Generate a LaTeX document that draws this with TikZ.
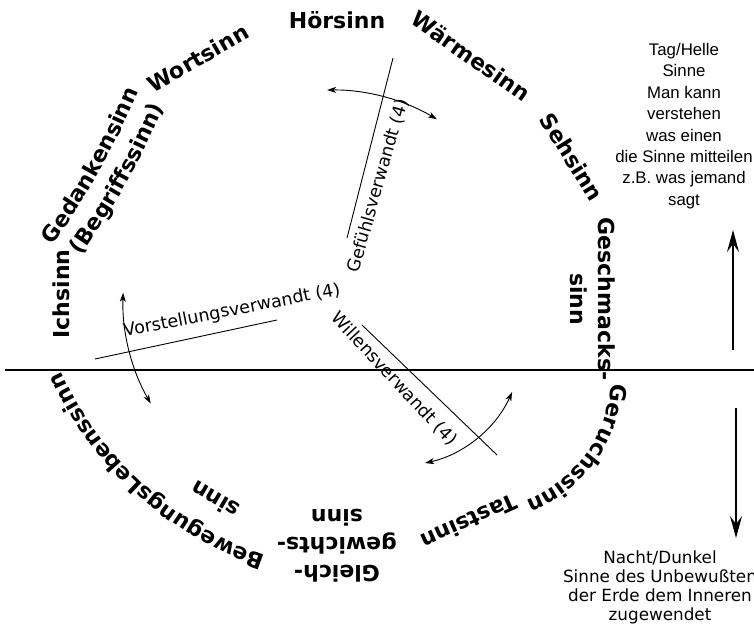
\documentclass[tikz,border=0pt]{standalone}
\usepackage{fontspec}
\setmainfont{DejaVu Sans}
\newfontfamily\arialfont{Liberation Sans}
\usetikzlibrary{arrows.meta,decorations.text}
\newcommand\sensefont{\fontsize{22}{28}\selectfont\bfseries}
\tikzset{
  sense/.style={font=\sensefont, inner sep=0pt, align=center},
  rel/.style={font=\fontsize{17.5}{21}\selectfont, inner sep=0pt},
  relline/.style={line width=0.9pt},
  swing/.style={line width=0.9pt, {Stealth[length=9pt,width=6pt,inset=2.5pt]}-{Stealth[length=9pt,width=6pt,inset=2.5pt]}},
  bigarrow/.style={line width=1.2pt, -{Stealth[length=22pt,width=12pt,inset=8pt]}},
  curved/.style={decorate, decoration={text along path, text align=center, text={#1}}},
  sidetext/.style={align=center, inner sep=0pt},
}
\begin{document}
\begin{tikzpicture}[x=1pt,y=1pt]
\useasboundingbox (0,0) rectangle (754,-630);

% horizon
\coordinate (hl) at (5,-370);
\coordinate (hr) at (754,-370);
\draw[line width=1.3pt] (hl) -- (hr);

% senses (straight labels)
\node[sense] (hoer) at (337,-20) {Hörsinn};
\node[sense, rotate=30] (wort) at (198,-58) {Wortsinn};
\node[sense, rotate=-35] (waerme) at (471,-56) {Wärmesinn};
\node[sense, rotate=-58] (seh) at (572,-157) {Sehsinn};
\node[sense, rotate=-90] (geschmack) at (593,-299) {Geschmacks-\\sinn};
\node[sense, rotate=90] (ich) at (61,-294) {Ichsinn};
\node[sense, rotate=-156] (tast) at (469,-522) {Tastsinn};
\node[sense, rotate=180] (gleich) at (337,-546) {Gleich-\\gewichts-\\sinn};
\node[sense, rotate=150] (bewsinn) at (215,-500) {sinn};

% senses (curved labels)
\coordinate (gedA) at (48,-252);
\coordinate (gedB) at (142,-84);
\path[curved={|\sensefont|Gedankensinn}] (gedA) to[bend right=6] (gedB);
\coordinate (begA) at (77,-261);
\coordinate (begB) at (166,-101);
\path[curved={|\sensefont|(Begriffssinn)}] (begA) to[bend right=6] (begB);
\coordinate (gerC) at (479,-377);
\path[curved={|\sensefont|Geruchssinn}] ([shift={(2:132)}]gerC) arc[start angle=2,end angle=-74,radius=132];
\coordinate (bewC) at (373,-231);
\path[curved={|\sensefont|BewegungsLebenssinn}] ([shift={(258:342)}]bewC) arc[start angle=258,end angle=198,radius=342];

% relation lines
\coordinate (g1) at (393,-58);
\coordinate (g2) at (347,-238);
\draw[relline] (g1) -- (g2);
\node[rel, rotate=74] (gef) at (378,-186) {Gefühlsverwandt (4)};
\coordinate (v1) at (95,-359);
\coordinate (v2) at (277,-320);
\draw[relline] (v1) -- (v2);
\node[rel, rotate=11] (vor) at (232,-311) {Vorstellungsverwandt (4)};
\coordinate (w1) at (362,-325);
\coordinate (w2) at (497,-455);
\draw[relline] (w1) -- (w2);
\node[rel, rotate=-47] (wil) at (394,-379) {Willensverwandt (4)};

% swinging arrows
\coordinate (c1) at (330,-300);
\coordinate (c3) at (398,-341);
\draw[swing] ([shift={(90.8:210)}]c1) arc[start angle=90.8,end angle=59.4,radius=210];
\draw[swing] ([shift={(178:207)}]c1) arc[start angle=178,end angle=210,radius=207];
\draw[swing] ([shift={(-77.5:125)}]c3) arc[start angle=-77.5,end angle=-24.1,radius=125];

% day / night
\coordinate (up0) at (733,-350);
\coordinate (up1) at (733,-230);
\draw[bigarrow] (up0) -- (up1);
\coordinate (dn0) at (736,-408);
\coordinate (dn1) at (736,-538);
\draw[bigarrow] (dn0) -- (dn1);

\node[sidetext, font={\arialfont\fontsize{16.8}{21.4}\selectfont}] (tag) at (684,-126)
  {Tag/Helle\\Sinne\\Man kann\\verstehen\\was einen\\die Sinne mitteilen\\z.B. was jemand\\sagt};
\node[sidetext, font={\fontsize{16.8}{19}\selectfont}] (nacht) at (660,-587)
  {Nacht/Dunkel\\Sinne des Unbewußten\\der Erde dem Inneren\\zugewendet};
\end{tikzpicture}
\end{document}
